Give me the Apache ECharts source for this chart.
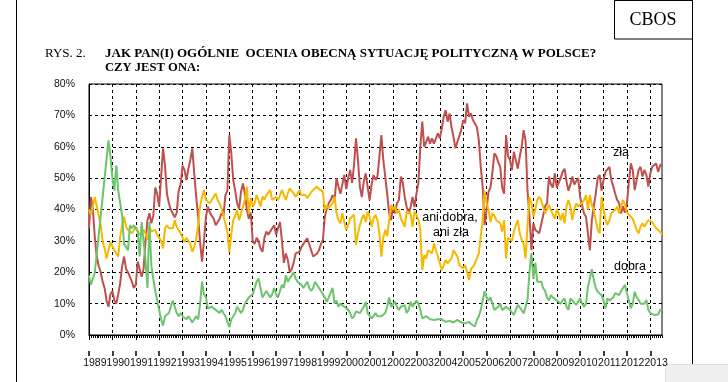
<!DOCTYPE html>
<html><head><meta charset="utf-8">
<script src="https://cdn.jsdelivr.net/npm/echarts@6/dist/echarts.min.js"></script>
<style>html,body{margin:0;padding:0;background:#fff}#c{width:728px;height:382px}</style>
</head><body><div id="c"></div>
<script>
const START_YEAR = 1989;
// monthly values, Jan 1989 - Jul 2013 (one row per year)
const zla = [
 34,44,40,31,25,22,20,17,15,11,9,13,
 14,11,10,13,16.5,22,25,21,20,19.6,17,15,
 16,23.4,24,18.6,21,30,36.6,38.8,35.6,38,47,45,
 41,50.5,59.5,54,45,42,40,38.7,37.5,39,46,48,
 54,52.6,49.4,53,55.8,59.5,51.5,44,37.7,29.6,23.4,30,
 37.7,40.9,39,39.5,37,35,34.5,37,38.8,38,44.6,46,
 63.7,58,49.4,46,42,40.3,45.7,48.3,45,40,37,39,
 30,29,31,30,27.6,26.5,31,33,32,31.4,34,35,
 32,34,36,30,23,26,24,20,21,23,26,26.5,
 26.5,28,28.6,30,30.8,29,27,25,24.4,26,27,29,
 30.3,37.7,40.3,42,43,44.6,43,49.9,47.3,45,48,51,
 46.5,50,52.6,48.5,54.2,62.7,55.8,47.3,44,49,51.5,47,
 43,48,51,49.4,50.5,56.8,63.7,55.8,50.5,45,38.8,36.6,
 41,38.8,42,43,50.5,48.5,44,40.8,38.7,40.8,44,40.8,
 45,48.5,60,68,60,61.5,63.2,61,62.7,61,61.5,64.3,
 62.7,65.8,69.6,71.7,68,70.6,66.3,63.2,59.5,61.5,62,65.3,
 68.5,67.5,73.8,69.6,70.6,68.5,68,66.3,62.2,53.6,47.3,35,
 40,45.7,47,52,57.9,57,55,53.6,47,45,63.7,57,
 55.8,52.6,58.4,59,53,56.8,60,65.3,62,46,38,27,
 35.6,33.5,33,32.4,31.9,38,41,42,50.5,48,47,51.5,
 47,47.5,50,52,53,49,46,48,50.5,48,49,50,
 44,41.4,38.7,37.7,38,27,36.6,41,45,50,51,46,
 49.4,52,51.5,53.6,49.4,47.3,45,43,42,38.7,41,39,
 42,48.5,54.7,52.6,46.2,49.4,52.6,53.6,50.5,52.6,51,47.3,
 51.5,53.6,53,54.7,52,54,54.7
];
const aniDobraAniZla = [
 40,38.3,41,44,41,38,35,30,27.6,24.4,27,29.6,
 29,27,26,25,31.4,35,37.7,34.5,33.5,33,32.4,33,
 34.5,33,32,31.9,33.5,32.4,30.3,34.5,33,33,33.5,32,
 32.4,30,27.6,34,35,34,33.5,34,36.6,34.5,35,32.4,
 33,29.6,31,31.4,29,26.5,28,30.8,35,41,44,46.2,
 43,42.5,42,43,44.1,45.1,43,42,40.3,38,37.7,33,
 26.5,32,36.6,38,39.9,36.6,38.8,41,43.1,47.3,38.7,43.6,
 41,42,44.6,43,41,44.1,43.1,44.6,45,46.2,43,43,
 44,43,44.6,46.2,44.6,43,45.1,46.7,47.3,45.1,44.1,45.1,
 46.2,44.6,44.1,44.6,43.6,44.6,45.5,46.2,45.7,47.3,46.5,46.2,
 45.7,39.6,41.4,40.4,41,42,44.1,38.8,36.6,35.6,38.8,36,
 33.5,35,37.2,36.6,38.3,28.7,32.4,35,37.2,38.3,36,39.3,
 37.7,34.5,37.2,38.3,36.6,32.4,25,31,33.5,31.5,36.6,41.4,
 40,41,38.8,39.9,37.2,37,34.5,39.3,38.8,38.8,34.5,39.3,
 38.3,36.6,33.5,20.7,25.5,24.4,27,27.6,26,29.2,27,25,
 24.4,20.7,20.7,23.9,22.8,23.4,24.4,27.1,27.6,25,22.3,22.8,
 21.2,22.3,20,17.5,21,21.8,22.8,23.4,26,31.4,36.6,46,
 42,39.9,36,38.8,38,36.6,37.2,35.6,33,36.6,24.4,31,
 31.4,30,33,35,36.6,32.4,30.3,29,24.4,35,44,42,
 37.7,40,43,44.1,43,40.9,38.7,40,41.5,39.9,40.4,37,
 40,38.8,36.6,38.8,35.6,41,43,41,36.6,39.9,42,41,
 40.4,42.1,43,44.6,40,44.6,41.5,39.9,36.6,33.5,32.4,44.1,
 40,36.6,35.1,36.6,38.8,39.3,39.9,40.9,38.8,38.8,43,41.5,
 39,38.8,37.7,37,36.6,33.5,32.4,34.5,35.6,34.5,35.6,36.6,
 37,36,35,34,34.5,33,32
];
const dobra = [
 19,16,15.5,20,26,32,38,44,50,56,62,57,
 50,46,54,46,42,38,29,28,27,35,34,35,
 35,33,25,36,30,24,15,36,22,18,14,11,
 8,5,3,6,6,7,7,11,9,7,6,7,
 6,6,5,6,5,4,5,6,5,10,17,13,
 12,8.5,8,9,9,8,8,7,8,7,6,6,
 2.5,5,6,7,9,8,7,8,10,10,12,12,
 13,15,17,18,15,12,13,14,13,12,13,15,
 13,12,14,16,15,19,17,18,19,20,18,17,
 17,16,15,16,17,15,14,15,17,16,15,14,
 14,12,10.6,12,12,15,10,11,9,10,9.5,9,
 9,8,7,5.3,6,7.5,7,7,8,9,10.6,7,
 7,5.3,6,7,6,5.8,6,6.4,7,9,12,9,
 9,10.6,9,8,9,8.5,9.5,7,8,10.6,9,10,
 11,10,8,5.3,5.5,6,5.8,5,5,4.8,5,5,
 5,5,4.5,4.2,4,4.5,4.2,4,4.5,4.8,5,4,
 4,3.7,4,4.2,3.5,3,2.7,4.8,6,8,11,14,
 12,11,12,10,8,8,9,10,8,8.5,9,9,
 8,7.5,6.4,8,9.6,9.6,8,6.9,6.4,11.2,20,26,
 18,23,17,17.5,17,15,14,12,11,12.7,12,11.7,
 11,11,10,11,11.7,9,8,11.7,11,10.6,9.6,9,
 11.7,10,9,10,15.4,18,21,17.5,15,13.8,13.3,12.7,
 11,8.5,11.7,11,11.2,12,13.3,13,12.7,14,15,16,
 13.3,11,8.5,10,13.8,12,11.2,10,9.6,10,11.2,8,
 7,7,6.4,6.4,6.5,8,8
];
const months = zla.map((_, i) => {
  const y = START_YEAR + Math.floor(i / 12), m = i % 12 + 1;
  return y + '-' + (m < 10 ? '0' : '') + m;
});
const SERIES_NAMES = ['zła', 'ani dobra, ani zła', 'dobra'];
const COLORS = ['#c0504d', '#f7b900', '#6cc46c'];

const SANS = '"Liberation Sans", Arial, sans-serif';
const SERIF = '"Liberation Serif", "Times New Roman", serif';
const chart = echarts.init(document.getElementById('c'), null, {renderer: 'canvas'});
const txt = (x, y, text, font, extra) => Object.assign({
  type: 'text', x: x, y: y, silent: true,
  style: {text: text, font: font, fill: '#000', textAlign: 'left', textVerticalAlign: 'middle', align: 'left', verticalAlign: 'middle'}
}, extra || {});
const centered = (x, y, text, font) => {
  const t = txt(x, y, text, font);
  t.style.textAlign = 'center'; t.style.align = 'center';
  return t;
};

chart.setOption({
  animation: false,
  backgroundColor: '#fff',
  grid: {left: 89, right: 66, top: 84, bottom: 47, show: true, borderColor: '#000', borderWidth: 1, backgroundColor: 'transparent'},
  xAxis: [
    {type: 'category', data: months, boundaryGap: false, position: 'bottom',
     axisLine: {show: true, lineStyle: {color: '#000', width: 1}},
     axisTick: {show: true, interval: 0, length: 3, lineStyle: {color: '#000', width: 1}},
     axisLabel: {show: false},
     splitLine: {show: true, interval: (i) => i % 12 === 0 && i > 0, lineStyle: {color: '#000', type: [3, 3], width: 1}}},
    {type: 'category', data: months, boundaryGap: false, position: 'bottom', offset: 0,
     axisLine: {show: false},
     axisTick: {show: true, interval: (i) => i % 12 === 0, length: 5, lineStyle: {color: '#000', width: 1}},
     axisLabel: {show: false}, splitLine: {show: false}},
    {type: 'category', data: months, boundaryGap: false, position: 'bottom', offset: 16,
     axisLine: {show: false},
     axisTick: {show: true, interval: (i) => i % 12 === 0, length: 5, lineStyle: {color: '#000', width: 1.5}},
     axisLabel: {show: true, interval: (i) => i % 12 === 3, formatter: (v) => v.slice(0, 4), margin: 7,
                 fontSize: 10.5, color: '#111', fontFamily: SANS},
     splitLine: {show: false}}
  ],
  yAxis: {type: 'value', min: 0, max: 80, interval: 10,
    axisLine: {show: true, lineStyle: {color: '#000', width: 1}},
    axisTick: {show: false},
    axisLabel: {formatter: '{value}%', fontSize: 10.5, color: '#111', margin: 14, fontFamily: SANS},
    splitLine: {show: true, lineStyle: {color: '#000', type: [3, 3], width: 1}}},
  series: [zla, aniDobraAniZla, dobra].map((d, k) => ({
    name: SERIES_NAMES[k], type: 'line', data: d, xAxisIndex: 0, yAxisIndex: 0,
    showSymbol: false, symbol: 'none', smooth: false,
    lineStyle: {color: COLORS[k], width: 2}, itemStyle: {color: COLORS[k]}, z: 3 + k
  })),
  graphic: [
    {type: 'line', silent: true, shape: {x1: 16.5, y1: 0, x2: 16.5, y2: 382}, style: {stroke: '#000', lineWidth: 1}},
    {type: 'line', silent: true, shape: {x1: 692.5, y1: 0, x2: 692.5, y2: 364}, style: {stroke: '#000', lineWidth: 1}},
    {type: 'rect', silent: true, shape: {x: 614.5, y: 0.5, width: 78, height: 38.5}, style: {fill: '#fff', stroke: '#000', lineWidth: 1}},
    {type: 'rect', silent: true, shape: {x: 665.5, y: 364.5, width: 63, height: 18}, style: {fill: '#f0f0f0', stroke: '#dedede', lineWidth: 1}},
    centered(653, 20, 'CBOS', '18px ' + SERIF),
    txt(45, 54, 'RYS. 2.', '13px ' + SERIF),
    txt(105, 54, 'JAK PAN(I) OGÓLNIE  OCENIA OBECNĄ SYTUACJĘ POLITYCZNĄ W POLSCE?', 'bold 13px ' + SERIF),
    txt(105, 68, 'CZY JEST ONA:', 'bold 13px ' + SERIF, {scaleX: 0.97}),
    centered(621, 153, 'zła', '12.5px ' + SANS),
    centered(450, 218, 'ani dobra,', '12.5px ' + SANS),
    centered(451, 233, 'ani zła', '12.5px ' + SANS),
    centered(630, 267, 'dobra', '12.5px ' + SANS)
  ]
});
</script></body></html>
